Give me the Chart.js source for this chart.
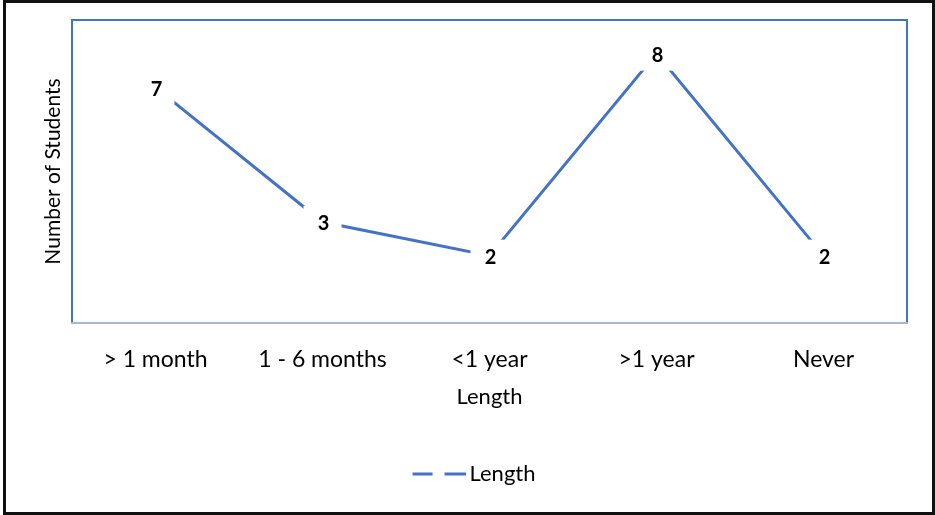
<!DOCTYPE html>
<html>
<head>
<meta charset="utf-8">
<style>
  html, body { margin: 0; padding: 0; background: #fff; }
  #wrap { width: 935px; height: 515px; position: relative; }
</style>
<script src="https://cdn.jsdelivr.net/npm/chart.js@4/dist/chart.umd.min.js"></script>
</head>
<body>
<div id="wrap"><canvas id="chart" width="935" height="515"></canvas></div>
<script>
// Survey answers: how long students have been doing it
const categories = ['> 1 month', '1 - 6 months', '<1 year', '>1 year', 'Never'];
const studentCounts = [7, 3, 2, 8, 2];
const seriesName = 'Length';
const xTitle = 'Length';
const yTitle = 'Number of Students';

const BLUE = '#4472C4';
const FONT = 'Lato, "Open Sans", sans-serif';

// Legend swatch: a short dashed blue line, set to the right of its canvas
function dashedSwatch() {
  const c = document.createElement('canvas');
  c.width = 71; c.height = 4;
  const g = c.getContext('2d');
  g.fillStyle = BLUE;
  g.fillRect(18, 0.5, 20, 3);
  g.fillRect(50, 0.5, 21, 3);
  return c;
}

// Frame around the whole figure and the plot area
const framePlugin = {
  id: 'frames',
  afterDraw(chart) {
    const { ctx, chartArea: a } = chart;
    ctx.save();
    ctx.lineWidth = 2;
    ctx.strokeStyle = BLUE;
    ctx.beginPath();
    ctx.moveTo(a.left, a.bottom);
    ctx.lineTo(a.left, a.top);
    ctx.lineTo(a.right, a.top);
    ctx.lineTo(a.right, a.bottom);
    ctx.stroke();
    ctx.strokeStyle = '#A9B7D4';
    ctx.beginPath();
    ctx.moveTo(a.left - 1, a.bottom);
    ctx.lineTo(a.right + 1, a.bottom);
    ctx.stroke();
    ctx.strokeStyle = '#111';
    ctx.lineWidth = 3;
    ctx.strokeRect(4.5, 1.5, 929, 512);
    ctx.restore();
  }
};

// Value labels sitting on each point, on a white box that breaks the line
const valueLabels = {
  id: 'valueLabels',
  afterDatasetsDraw(chart) {
    const { ctx } = chart;
    const meta = chart.getDatasetMeta(0);
    const values = chart.data.datasets[0].data;
    ctx.save();
    meta.data.forEach((pt, i) => {
      ctx.fillStyle = '#fff';
      ctx.fillRect(pt.x - 19, pt.y - 16, 38, 33);
      ctx.fillStyle = '#000';
      ctx.font = 'bold 20px ' + FONT;
      ctx.textAlign = 'center';
      ctx.textBaseline = 'middle';
      ctx.fillText(String(values[i]), pt.x + 1, pt.y + 2);
    });
    ctx.restore();
  }
};

new Chart(document.getElementById('chart'), {
  type: 'line',
  data: {
    labels: categories,
    datasets: [{
      label: seriesName,
      data: studentCounts,
      borderColor: BLUE,
      backgroundColor: BLUE,
      borderWidth: 3,
      borderCapStyle: 'butt',
      pointRadius: 0,
      pointHoverRadius: 0,
      tension: 0,
      fill: false
    }]
  },
  options: {
    responsive: false,
    animation: false,
    events: [],
    layout: { padding: { left: 30, right: 28, top: 20, bottom: 20 } },
    scales: {
      x: {
        offset: true,
        grid: { display: false, drawTicks: false },
        border: { display: false },
        ticks: { color: '#000', font: { family: FONT, size: 23 }, padding: 23, maxRotation: 0, autoSkip: false },
        title: { display: true, text: xTitle, color: '#000', font: { family: FONT, size: 22 }, padding: { top: -13, bottom: 33 } }
      },
      y: {
        min: 0,
        max: 9,
        grid: { display: false, drawTicks: false },
        border: { display: false },
        ticks: { display: false },
        title: { display: true, text: yTitle, color: '#000', font: { family: FONT, size: 21 }, padding: { top: 10.4, bottom: 6.4 } }
      }
    },
    plugins: {
      legend: {
        position: 'bottom',
        labels: {
          color: '#000',
          font: { family: FONT, size: 22 },
          usePointStyle: true,
          pointStyle: dashedSwatch(),
          pointStyleWidth: 57,
          padding: 20
        }
      },
      tooltip: { enabled: false }
    }
  },
  plugins: [framePlugin, valueLabels]
});
</script>
</body>
</html>
